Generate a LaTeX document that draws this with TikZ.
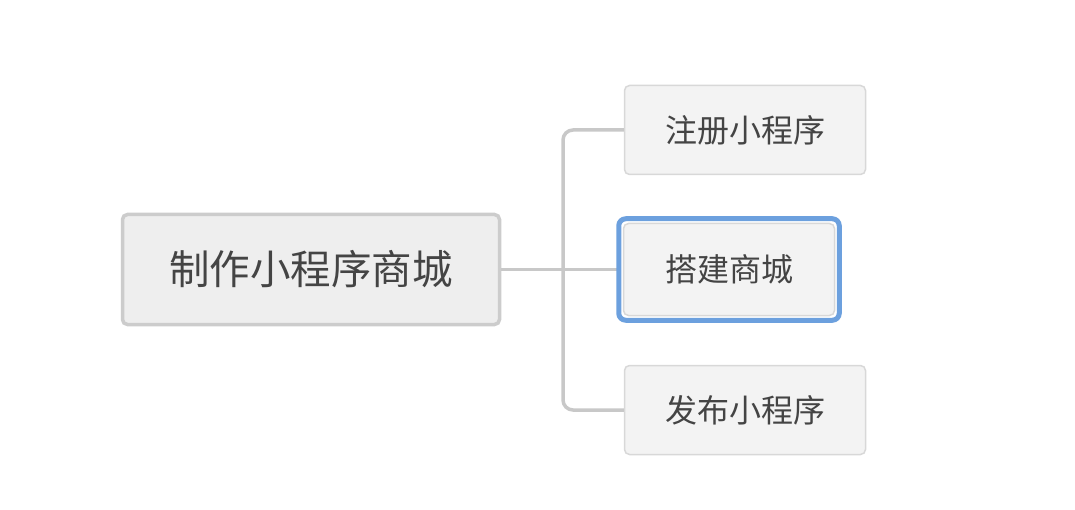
\documentclass[tikz,border=0pt]{standalone}
\usepackage{fontspec}
\setmainfont{Noto Sans CJK SC}
\definecolor{txt}{HTML}{444444}
\definecolor{rootfill}{HTML}{EEEEEE}
\definecolor{rootline}{HTML}{CCCCCC}
\definecolor{childfill}{HTML}{F3F3F3}
\definecolor{childline}{HTML}{D8D8D8}
\definecolor{connline}{HTML}{C8C8C8}
\definecolor{hl}{HTML}{6CA0DE}
\begin{document}
\begin{tikzpicture}[x=1pt,y=1pt,
  rootbox/.style={draw=rootline, line width=3.5pt, fill=rootfill, rounded corners=5pt,
    minimum width=377pt, minimum height=110pt, inner sep=0pt, text=txt,
    font=\fontsize{40.5}{46}\selectfont},
  childbox/.style={draw=childline, line width=1.5pt, fill=childfill, rounded corners=5pt,
    minimum width=241pt, minimum height=89pt, inner sep=0pt, text=txt,
    font=\fontsize{32}{38}\selectfont},
  conn/.style={draw=connline, line width=3.5pt, rounded corners=10pt}]
\useasboundingbox (0,0) rectangle (1075,509);
\fill[white] (0,0) rectangle (1075,509);
\coordinate (j) at (563,239.5);
\node[rootbox] (r) at (311,239.5) {制作小程序商城};
\node[childbox] (c1) at (745,379) {注册小程序};
\node[childbox, minimum width=211pt, minimum height=92pt] (c2) at (729,239.5) {搭建商城};
\node[childbox] (c3) at (745,99) {发布小程序};
\draw[conn] (c1.west) -| (j) |- (c3.west);
\draw[conn, rounded corners=0pt] (r.east) -- ([xshift=-4pt]c2.west);
\draw[hl, line width=5pt, rounded corners=7pt]
  ([shift={(-4,4)}]c2.north west) rectangle ([shift={(4,-4)}]c2.south east);
\end{tikzpicture}
\end{document}
